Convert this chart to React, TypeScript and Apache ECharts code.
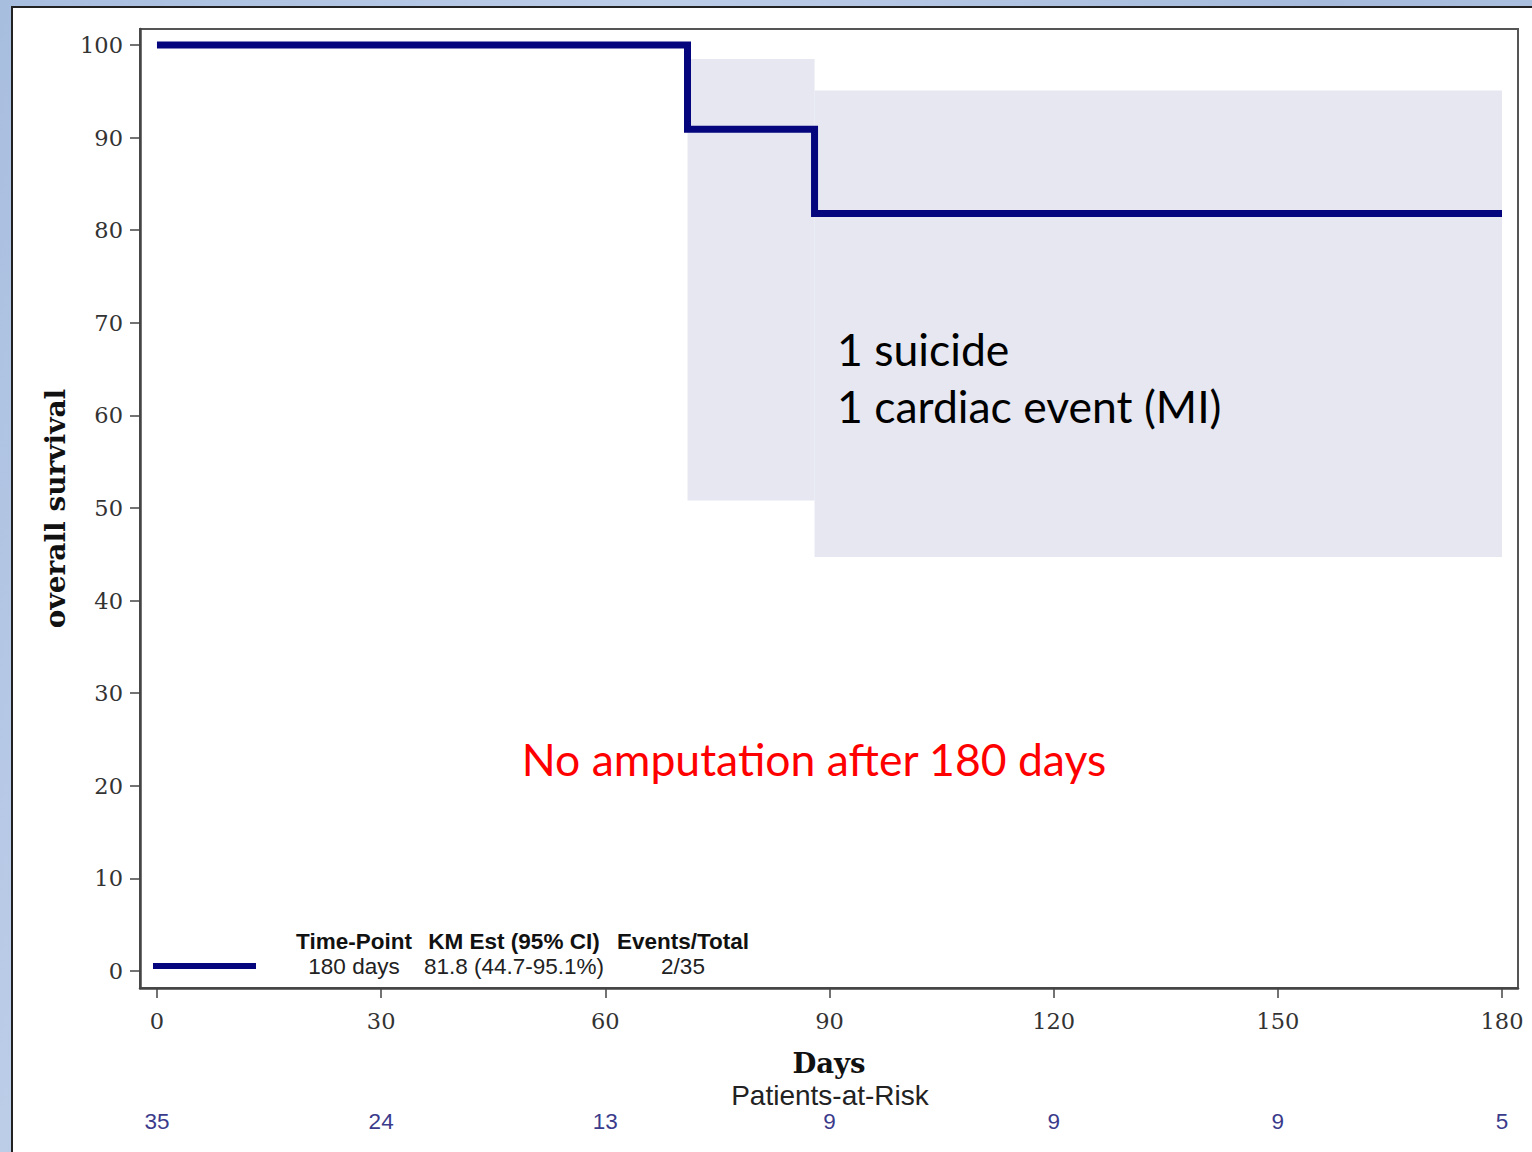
import React, { useEffect, useRef } from "react";
import * as echarts from "echarts";

// ---- data ----
const xTickValues = [0, 30, 60, 90, 120, 150, 180];
const yTickValues = [0, 10, 20, 30, 40, 50, 60, 70, 80, 90, 100];
const kmEventDays = [0, 71, 88, 180];
const kmSurvival = [100, 90.9, 81.8, 81.8];
const ciStartDays = [71, 88];
const ciEndDays = [88, 180];
const ciLower = [50.8, 44.7];
const ciUpper = [98.5, 95.1];
const atRiskDays = [0, 30, 60, 90, 120, 150, 180];
const atRiskCounts = [35, 24, 13, 9, 9, 9, 5];
const tableHeaders = ["Time-Point", "KM Est (95% CI)", "Events/Total"];
const tableValues = ["180 days", "81.8 (44.7-95.1%)", "2/35"];
const annotationLines = ["1 suicide", "1 cardiac event (MI)"];
const redNote = "No amputation after 180 days";

const NAVY = "#05057e";
const SERIF = "'DejaVu Serif', serif";
const SANS = "'Liberation Sans', Arial, sans-serif";

export default function App() {
  const ref = useRef<HTMLDivElement>(null);
  useEffect(() => {
    if (!ref.current) return;
    const chart = echarts.init(ref.current, undefined, { renderer: "svg" });
    const kmData = kmEventDays.map((d, i) => [d, kmSurvival[i]]);
    const ciData = ciStartDays.map((d, i) => [d, ciEndDays[i], ciLower[i], ciUpper[i]]);
    const colCenters = [354, 514, 683];
    chart.setOption({
      animation: false,
      backgroundColor: "transparent",
      grid: {
        left: 140,
        top: 29,
        right: 14,
        bottom: 164,
        show: true,
        borderColor: "#555",
        borderWidth: 2,
        backgroundColor: "transparent",
      },
      xAxis: [
        {
          type: "value",
          min: -2.27,
          max: 182.14,
          splitLine: { show: false },
          axisLine: { show: true, onZero: false, lineStyle: { color: "#444", width: 2.5 } },
          axisTick: { show: true, customValues: xTickValues, length: 10, lineStyle: { color: "#444", width: 1.5 } },
          axisLabel: {
            customValues: xTickValues,
            margin: 21,
            color: "#333",
            fontFamily: SERIF,
            fontSize: 22.5,
          },
          name: "Days",
          nameLocation: "middle",
          nameGap: 61,
          nameTextStyle: { fontFamily: SERIF, fontWeight: "bold", fontSize: 27.5, color: "#111" },
        },
        {
          type: "value",
          min: -2.27,
          max: 182.14,
          position: "bottom",
          offset: 114,
          splitLine: { show: false },
          axisLine: { show: false },
          axisTick: { show: false },
          axisLabel: {
            customValues: atRiskDays,
            formatter: (v: number) => {
              const i = atRiskDays.indexOf(v);
              return i >= 0 ? String(atRiskCounts[i]) : "";
            },
            color: "#3b3b8c",
            fontFamily: SANS,
            fontSize: 22.5,
          },
        },
      ],
      yAxis: {
        type: "value",
        min: -1.84,
        max: 101.73,
        splitLine: { show: false },
        axisLine: { show: true, onZero: false, lineStyle: { color: "#444", width: 2.5 } },
        axisTick: { show: true, customValues: yTickValues, length: 10, lineStyle: { color: "#444", width: 1.5 } },
        axisLabel: {
          customValues: yTickValues,
          margin: 17,
          color: "#333",
          fontFamily: SERIF,
          fontSize: 22.5,
        },
        name: "overall survival",
        nameLocation: "middle",
        nameRotate: 90,
        nameGap: 70,
        nameTextStyle: { fontFamily: SERIF, fontWeight: "bold", fontSize: 28, color: "#111" },
      },
      series: [
        {
          type: "custom",
          xAxisIndex: 0,
          z: 1,
          clip: true,
          data: ciData,
          encode: { x: [0, 1], y: [2, 3] },
          renderItem: (params: any, api: any) => {
            const p0 = api.coord([api.value(0), api.value(3)]);
            const p1 = api.coord([api.value(1), api.value(2)]);
            return {
              type: "rect",
              shape: { x: p0[0], y: p0[1], width: p1[0] - p0[0], height: p1[1] - p0[1] },
              style: { fill: "#e6e7f1" },
            };
          },
        },
        {
          type: "line",
          xAxisIndex: 0,
          z: 3,
          step: "end",
          data: kmData,
          showSymbol: false,
          symbol: "none",
          lineStyle: { color: NAVY, width: 7, join: "miter", cap: "butt" },
        },
      ],
      graphic: [
        {
          type: "line",
          shape: { x1: 153, y1: 966, x2: 256, y2: 966 },
          style: { stroke: NAVY, lineWidth: 6 },
          z: 10,
        },
        ...tableHeaders.map((t, i) => ({
          type: "text",
          x: colCenters[i],
          y: 941,
          style: {
            text: t,
            fontFamily: SANS,
            fontWeight: "bold",
            fontSize: 22.5,
            fill: "#111",
            align: "center",
            verticalAlign: "middle",
          },
          z: 10,
        })),
        ...tableValues.map((t, i) => ({
          type: "text",
          x: colCenters[i],
          y: 966,
          style: {
            text: t,
            fontFamily: SANS,
            fontSize: 22.5,
            fill: "#222",
            align: "center",
            verticalAlign: "middle",
          },
          z: 10,
        })),
        {
          type: "text",
          x: 830,
          y: 1095,
          style: {
            text: "Patients-at-Risk",
            fontFamily: SANS,
            fontSize: 28,
            fill: "#222",
            align: "center",
            verticalAlign: "middle",
          },
        },
        ...annotationLines.map((t, i) => ({
          type: "text",
          x: 837,
          y: 348 + i * 57,
          style: {
            text: t,
            fontFamily: "Lato, sans-serif",
            fontSize: 44.5,
            fill: "#000",
            align: "left",
            verticalAlign: "middle",
          },
          z: 10,
        })),
        {
          type: "text",
          x: 814,
          y: 758,
          style: {
            text: redNote,
            fontFamily: "Lato, sans-serif",
            fontSize: 44.5,
            fill: "#ff0000",
            align: "center",
            verticalAlign: "middle",
          },
          z: 10,
        },
      ],
    });
    return () => chart.dispose();
  }, []);

  return (
    <div
      style={{
        position: "absolute",
        left: 0,
        top: 0,
        width: 1532,
        height: 1152,
        overflow: "hidden",
        background: "linear-gradient(120deg, #a8bedf 0%, #bccde8 30%, #a6bbdc 60%, #b8cbe6 100%)",
      }}
    >
      <div
        style={{
          position: "absolute",
          left: 11,
          top: 6,
          width: 1532 - 11,
          height: 1152 - 6,
          background: "#fff",
          borderLeft: "2px solid #222",
          borderTop: "2px solid #222",
          boxSizing: "border-box",
        }}
      />
      <div ref={ref} style={{ position: "absolute", left: 0, top: 0, width: 1532, height: 1152 }} />
    </div>
  );
}
